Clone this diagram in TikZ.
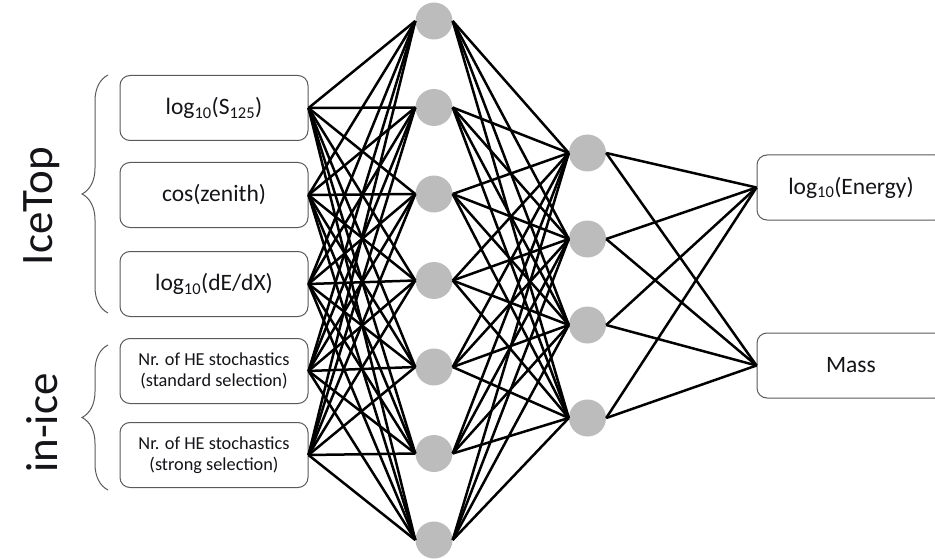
\documentclass[tikz,border=0pt]{standalone}
\usepackage{fontspec}
\setmainfont{Carlito}
\usetikzlibrary{decorations.pathreplacing}
\definecolor{nodegray}{RGB}{188,188,188}
\definecolor{boxedge}{RGB}{90,90,90}
\definecolor{txt}{RGB}{20,20,25}
\begin{document}
\begin{tikzpicture}[x=1pt,y=-1pt,
  inbox/.style={draw=boxedge,line width=1pt,rounded corners=10pt,minimum width=188pt,minimum height=65pt,inner sep=0pt,align=center,fill=white,text=txt},
  bigtxt/.style={font=\fontsize{23.5}{27}\selectfont},
  smalltxt/.style={font=\fontsize{18.3}{21}\selectfont},
  neuron/.style={circle,fill=nodegray,minimum size=37pt,inner sep=0pt},
  conn/.style={line width=2.5pt,black},
  bracestyle/.style={decorate,decoration={brace,amplitude=26pt},line width=1pt,boxedge}]
\useasboundingbox (0,0) rectangle (935,559);
\clip (0,0) rectangle (935,559);
% input boxes
\node[inbox,bigtxt] (i1) at (214,108) {log\textsubscript{10}(S\textsubscript{125})};
\node[inbox,bigtxt] (i2) at (214,195) {cos(zenith)};
\node[inbox,bigtxt] (i3) at (214,284) {log\textsubscript{10}(dE/dX)};
\node[inbox,smalltxt] (i4) at (214,371) {Nr. of HE stochastics\\(standard selection)};
\node[inbox,smalltxt] (i5) at (214,455) {Nr. of HE stochastics\\(strong selection)};
% output boxes
\node[inbox,bigtxt] (o1) at (851,187.5) {log\textsubscript{10}(Energy)};
\node[inbox,bigtxt] (o2) at (851,365.5) {Mass};
% hidden layer 1
\foreach \k/\y in {1/21,2/107.5,3/194,4/280.5,5/367,6/453.5,7/540}
  \node[neuron] (a\k) at (434,\y) {};
% hidden layer 2
\foreach \k/\y in {1/153,2/239,3/325,4/418}
  \node[neuron] (b\k) at (587.5,\y) {};
% connections
\foreach \i in {1,...,5}
  \foreach \k in {1,...,7}
    \draw[conn] (i\i.east) -- (a\k.west);
\foreach \k in {1,...,7}
  \foreach \j in {1,...,4}
    \draw[conn] (a\k.east) -- (b\j.west);
\foreach \j in {1,...,4}
  \foreach \o in {1,2}
    \draw[conn] (b\j.east) -- (o\o.west);
% braces
\coordinate (t1) at (108,313);
\coordinate (t2) at (108,75);
\coordinate (s1) at (108,490);
\coordinate (s2) at (108,345);
\draw[bracestyle] (t1) -- (t2);
\draw[bracestyle] (s1) -- (s2);
% group labels
\node[rotate=90,text=txt,font=\fontsize{45}{50}\selectfont] (g1) at (42,206) {IceTop};
\node[rotate=90,text=txt,font=\fontsize{45}{50}\selectfont] (g2) at (42,423) {in-ice};
\end{tikzpicture}
\end{document}
